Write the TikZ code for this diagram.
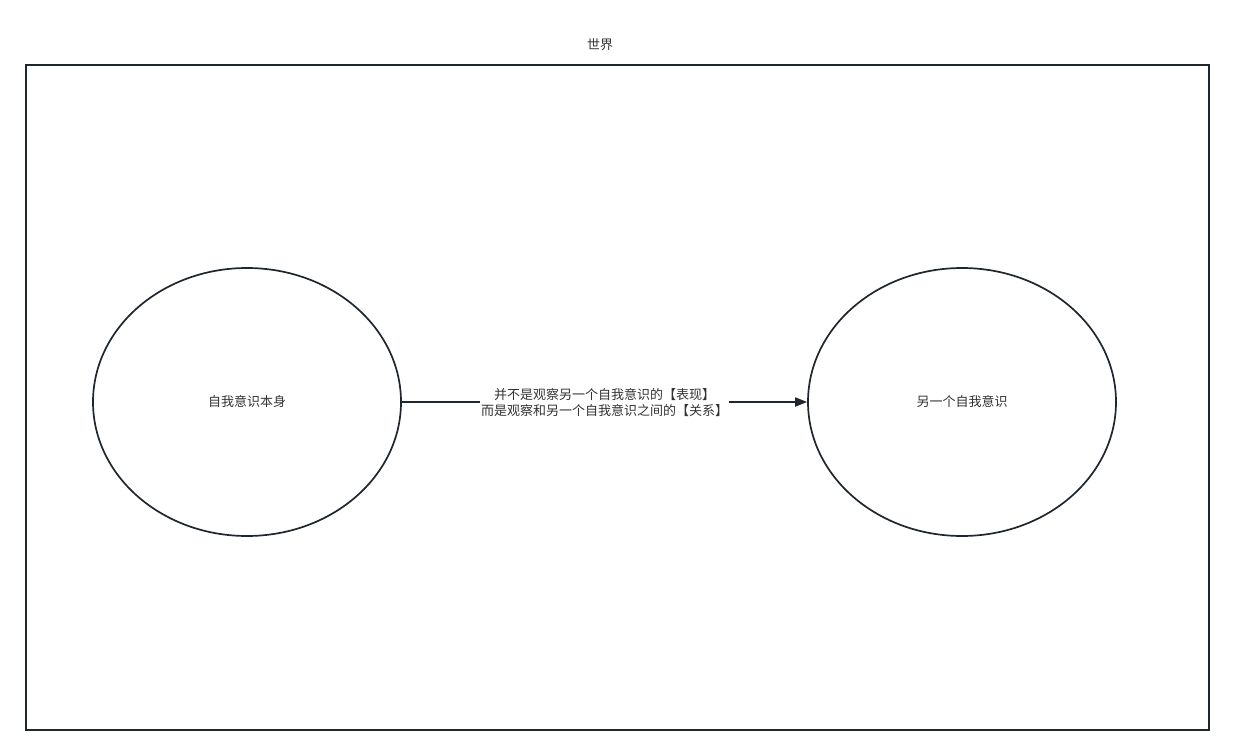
\documentclass[tikz,border=0pt]{standalone}
\usepackage{fontspec}
\newfontfamily\cjk{Noto Sans CJK SC}
\usetikzlibrary{arrows.meta,shapes.geometric}
\definecolor{linec}{HTML}{1F262D}
\definecolor{textc}{HTML}{333333}
\begin{document}
\begin{tikzpicture}[x=1pt,y=-1pt,
  shapeline/.style={draw=linec,line width=1.7pt},
  lbl/.style={font=\cjk\fontsize{13}{15.5}\selectfont,text=textc,align=center},
  ell/.style={shapeline,ellipse,minimum width=308pt,minimum height=268pt,inner sep=0pt}]
\useasboundingbox (0,0) rectangle (1233,755);
\node[shapeline,minimum width=1183pt,minimum height=665pt,inner sep=0pt,anchor=north west] (world) at (25,64) {};
\node[lbl] (title) at (600,45) {世界};
\node[ell] (self) at (247,402) {};
\node[lbl] at (self.center) {自我意识本身};
\node[ell] (other) at (962,402) {};
\node[lbl] at (other.center) {另一个自我意识};
\draw[shapeline,-{Triangle[length=12pt,width=9pt]}] (self.east) -- node[lbl,fill=white,inner sep=1pt,yshift=-0.5pt] (rel) {并不是观察另一个自我意识的【表现】\\而是观察和另一个自我意识之间的【关系】} (other.west);
\end{tikzpicture}
\end{document}
